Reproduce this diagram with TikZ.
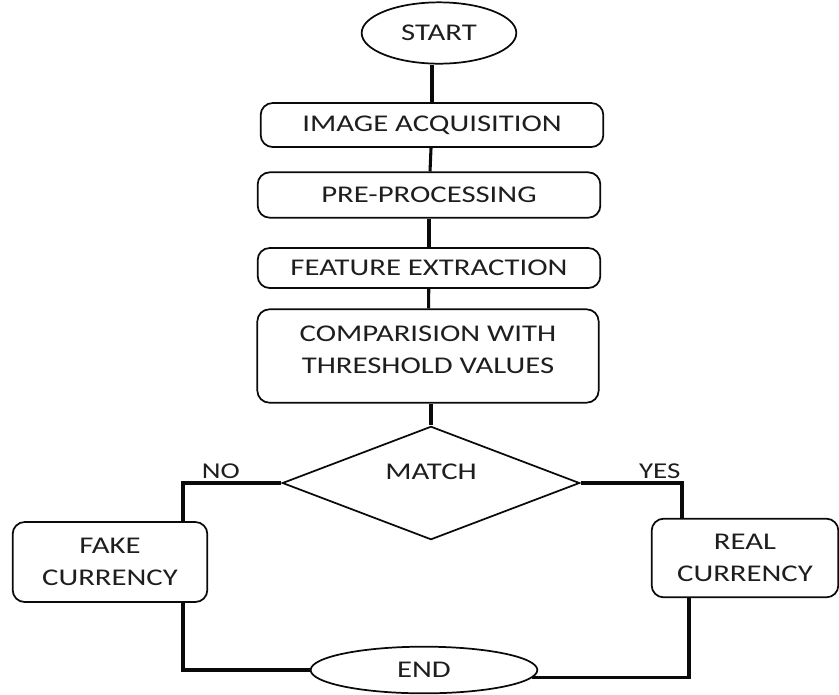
\documentclass[tikz,border=0pt]{standalone}
\usepackage{fontspec}
\setmainfont{Carlito}[FakeStretch=1.28]
\usetikzlibrary{positioning, calc, shapes.geometric}
\definecolor{lineBlack}{RGB}{ 10, 10, 10}
\definecolor{textGray} {RGB}{ 30, 30, 30}
\tikzset{
  %% process box
  procbox/.style={
    rectangle, rounded corners=9pt,
    draw=lineBlack, line width=1.3pt,
    align=center, font=\fontsize{18}{24}\selectfont, text=textGray
  },
  %% start / end terminal
  terminal/.style={
    ellipse, inner sep=0pt,
    draw=lineBlack, line width=1.3pt,
    font=\fontsize{18}{24}\selectfont, text=textGray
  },
  %% decision
  decision/.style={
    diamond, aspect=2.6, inner sep=0pt,
    draw=lineBlack, line width=1.3pt
  },
  %% connector
  conn/.style={line width=2.3pt, color=lineBlack},
  lbl/.style={font=\fontsize{17}{20}\selectfont, text=textGray, inner sep=1pt}
}

\begin{document}
\begin{tikzpicture}[x=0.75pt, y=-0.75pt]

\useasboundingbox (0,0) rectangle (839,694);

%% ═══════════════════════════════════════════════════════════
%%  MAIN COLUMN
%% ═══════════════════════════════════════════════════════════

\node[terminal, minimum width=116pt, minimum height=46pt] (start) at (439,33) {START};

\node[procbox, minimum width=257pt, minimum height=33pt] (acq) at (432,125) {IMAGE ACQUISITION};
\node[procbox, minimum width=257pt, minimum height=34pt] (pre) at (429,195) {PRE-PROCESSING};
\node[procbox, minimum width=257pt, minimum height=30pt] (feat) at (429,268) {FEATURE EXTRACTION};
\node[procbox, minimum width=256pt, minimum height=70pt, text depth=9pt] (comp) at (428,356)
  {COMPARISION WITH\\THRESHOLD VALUES};

\node[decision, minimum width=223pt, minimum height=85pt] (match) at (431,483) {};
\node[lbl, font=\fontsize{18}{24}\selectfont] (matchTxt) at (431,472) {MATCH};

%% ═══════════════════════════════════════════════════════════
%%  OUTCOMES
%% ═══════════════════════════════════════════════════════════

\node[procbox, minimum width=146pt, minimum height=60pt] (fake) at (110,562) {FAKE\\CURRENCY};
\node[procbox, minimum width=140pt, minimum height=59pt] (real) at (745,558) {REAL\\CURRENCY};

\node[terminal, minimum width=170pt, minimum height=35pt] (end) at (424,670) {END};

%% turning points of the branch lines
\coordinate (noTurn)  at (183,483);
\coordinate (yesTurn) at (682,483);
\coordinate (yesDown) at (689,678);

%% ═══════════════════════════════════════════════════════════
%%  CONNECTORS
%% ═══════════════════════════════════════════════════════════

\draw[conn] (start.south -| acq.north) -- (acq.north);
\draw[conn] (acq) -- (pre);
\draw[conn] (pre) -- (feat);
\draw[conn] (feat) -- (comp);
\draw[conn] (comp.south -| match.north) -- (match.north);

% NO branch
\draw[conn] (match.west) -- (noTurn) -- (noTurn |- fake.north);
\draw[conn] (noTurn |- fake.south) -- (noTurn |- end.west) -- (end.west);
\node[lbl, above=2pt of noTurn, anchor=south west, xshift=13pt] (noLbl) {NO};

% YES branch
\draw[conn] (match.east) -- (yesTurn) -- (yesTurn |- real.north);
\draw[conn] (yesDown |- real.south) -- (yesDown |- end.-4) -- (end.-4);
\node[lbl, above=2pt of yesTurn, anchor=south east] (yesLbl) {YES};

\end{tikzpicture}
\end{document}
